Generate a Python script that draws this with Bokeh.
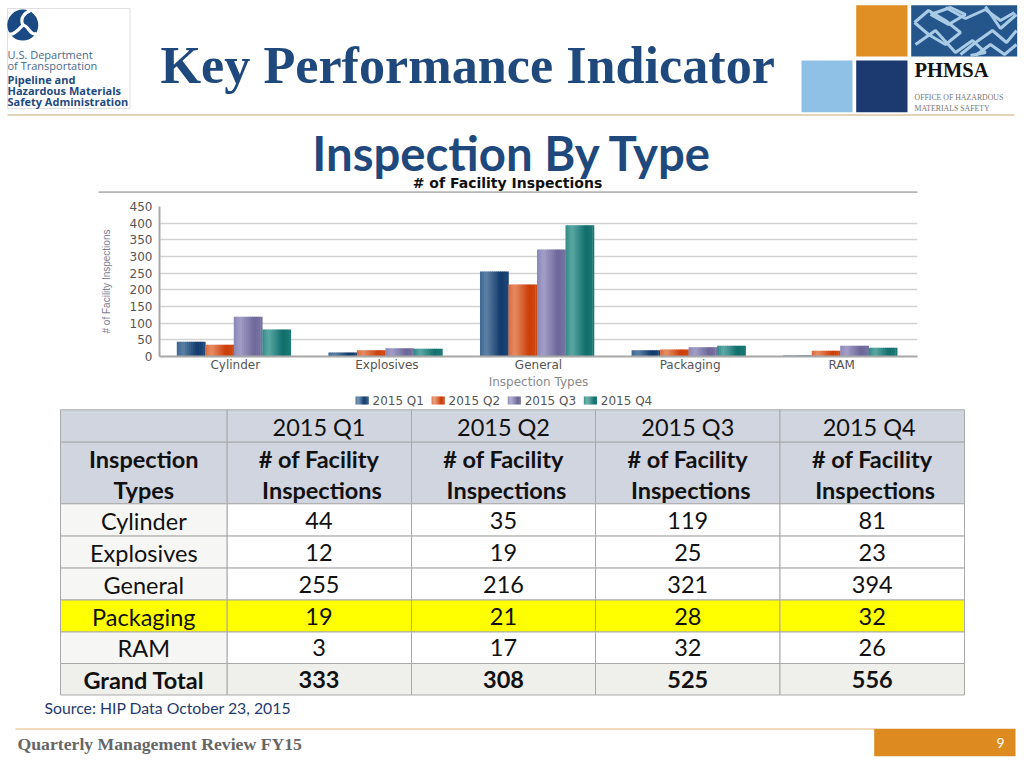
from bokeh.plotting import figure
from bokeh.layouts import column
from bokeh.models import Range1d, FactorRange, FixedTicker
from bokeh.core.properties import value
from bokeh.transform import dodge
from bokeh.embed import file_html
from bokeh.resources import INLINE

# ---------- data ----------
categories = ["Cylinder", "Explosives", "General", "Packaging", "RAM"]
q1 = [44, 12, 255, 19, 3]
q2 = [35, 19, 216, 21, 17]
q3 = [119, 25, 321, 28, 32]
q4 = [81, 23, 394, 32, 26]
grand_total = [333, 308, 525, 556]
series_names = ["2015 Q1", "2015 Q2", "2015 Q3", "2015 Q4"]
table_quarters = ["2015 Q1", "2015 Q2", "2015 Q3", "2015  Q4"]
y_ticks = [0, 50, 100, 150, 200, 250, 300, 350, 400, 450]

# ---------- style ----------
NAVY = "#1f497d"
# bar shading: left edge, highlight, shadow, right edge
shades = [
    ((60, 102, 146), (92, 128, 165), (14, 56, 106), (30, 72, 120)),
    ((220, 104, 60), (230, 140, 100), (204, 62, 8), (208, 74, 20)),
    ((138, 134, 180), (162, 158, 200), (108, 102, 152), (122, 116, 166)),
    ((47, 138, 134), (92, 168, 164), (15, 110, 107), (28, 122, 119)),
]
stops = [0.0, 0.22, 0.72, 1.0]
STRIPS = 14


def ramp(shade):
    out = []
    for j in range(STRIPS):
        t = (j + .5) / STRIPS
        k = 0 if t < stops[1] else (1 if t < stops[2] else 2)
        u = (t - stops[k]) / (stops[k + 1] - stops[k])
        rgb = [round(a + (b - a) * u) for a, b in zip(shade[k], shade[k + 1])]
        out.append("#%02x%02x%02x" % tuple(rgb))
    return out


ramps = [ramp(s) for s in shades]
W = 1024


def page_figure(y0, y1):
    f = figure(width=W, height=y1 - y0, x_range=Range1d(0, W), y_range=Range1d(y1, y0),
               output_backend="svg", toolbar_location=None, min_border=0, frame_align=False,
               background_fill_color="white", border_fill_color="white", outline_line_color=None)
    f.axis.visible = False
    f.grid.visible = False
    return f


def put(f, x, y, s, size, color="#000000", font="Lato", bold=False, align="left"):
    if font == "Lato" and size >= 15:
        y -= 1
    f.text([x], [y], text=[s], text_font=value(font), text_font_size=f"{size}px",
           text_font_style="bold" if bold else "normal", text_color=color,
           text_align=align, text_baseline="middle")


# ---------- header ----------
h = page_figure(0, 193)
h.quad(left=[7], right=[129.5], top=[8], bottom=[108], fill_color="white", line_color="#e0e0e0", line_width=1)
h.circle(x=[22.3], y=[24.6], radius=15.5, fill_color="#1a4a84", line_color=None)
h.bezier(x0=[22.5, 22.5, 22.5], y0=[24.5, 24.5, 24.5], x1=[30, 8, 36],
         y1=[10, 33, 33], cx0=[19, 18, 28], cy0=[18, 29, 25], cx1=[24, 12, 30], cy1=[12, 36, 36],
         line_color="white", line_width=3.2)
put(h, 7, 54, "U.S. Department", 11, "#4a6a8c", "Open Sans")
put(h, 7, 65, "of Transportation", 11, "#4a6a8c", "Open Sans")
put(h, 7, 79, "Pipeline and", 11, "#1f4a80", "Open Sans", True)
put(h, 7, 90, "Hazardous Materials", 11, "#1f4a80", "Open Sans", True)
put(h, 7, 101, "Safety Administration", 11, "#1f4a80", "Open Sans", True)
put(h, 160, 64, "Key Performance Indicator", 52.2, NAVY, "Liberation Serif", True)
h.quad(left=[801, 855.7, 855.7], right=[852, 907, 907], top=[60, 4.7, 60], bottom=[111.7, 56, 111.7],
       fill_color=["#8fc1e6", "#e08f24", "#1c3a70"], line_color=None)
h.quad(left=[910.7], right=[1016.7], top=[4.7], bottom=[56], fill_color="#24568c", line_color=None)
h.multi_line(
    xs=[[914, 928, 945, 960, 945, 928, 914], [915, 935, 955, 972, 985, 970],
        [945, 965, 985, 1000, 1014], [960, 975, 992, 1006, 1016], [975, 990, 1004, 1016],
        [930, 950, 965, 948, 930], [985, 1000, 1016]],
    ys=[[22, 10, 20, 32, 44, 34, 22], [44, 30, 52, 40, 52, 55],
        [7, 18, 9, 20, 12], [54, 42, 30, 42, 30], [55, 44, 54, 44],
        [14, 7, 14, 24, 14], [6, 28, 14]],
    line_color="#a9cbe6", line_width=3)
put(h, 914, 69, "PHMSA", 20.5, "#111111", "Liberation Serif", True)
put(h, 914, 97, "OFFICE OF HAZARDOUS", 7.8, "#777777", "Liberation Serif")
put(h, 914, 108, "MATERIALS SAFETY", 7.8, "#777777", "Liberation Serif")
h.segment(x0=[7], x1=[1014], y0=[114.5], y1=[114.5], line_color="#c9a875", line_width=1)
put(h, 512, 153, "Inspection By Type", 47.3, NAVY, bold=True, align="center")
put(h, 507, 182, "# of Facility Inspections", 14, "#111111", "DejaVu Sans", True, align="center")
h.segment(x0=[98], x1=[917], y0=[191.7], y1=[191.7], line_color="#b5b5b5", line_width=2)

# ---------- chart ----------
p = figure(width=W, height=200, x_range=FactorRange(factors=categories, range_padding=0, factor_padding=0),
           y_range=Range1d(0, 450), output_backend="svg", toolbar_location=None, frame_align=False,
           frame_width=758, frame_height=150,
           min_border_left=159, min_border_right=107, min_border_top=13, min_border_bottom=37,
           background_fill_color="white", border_fill_color="white", outline_line_color=None)
source = {"cat": categories, "q1": q1, "q2": q2, "q3": q3, "q4": q4}
BAR = 0.188
keys = ["q1", "q2", "q3", "q4"]
for i, k in enumerate(keys):
    off = (i - 1.5) * BAR - 0.008
    for j, c in enumerate(ramps[i]):
        sw = BAR / STRIPS
        w = sw * 1.3 if j < STRIPS - 1 else sw
        p.vbar(x=dodge("cat", off - BAR / 2 + (j + .5) * sw, range=p.x_range), top=k, width=w,
               source=source, fill_color=c, line_color=None)

p.yaxis.ticker = FixedTicker(ticks=y_ticks)
p.ygrid.ticker = FixedTicker(ticks=y_ticks)
p.xgrid.visible = False
p.ygrid.grid_line_color = "#d2d2d2"
p.ygrid.grid_line_width = 1.5
for ax in (p.xaxis[0], p.yaxis[0]):
    ax.major_tick_line_color = None
    ax.minor_tick_line_color = None
    ax.major_tick_in = 0
    ax.major_tick_out = 0
    ax.axis_line_color = "#a8a8a8"
    ax.axis_line_width = 2
    ax.major_label_text_font = "DejaVu Sans"
    ax.major_label_text_font_size = "12px"
    ax.major_label_text_color = "#555555"
p.xaxis[0].axis_label = "Inspection Types"
p.xaxis[0].axis_label_text_font = "DejaVu Sans"
p.xaxis[0].axis_label_text_font_size = "12px"
p.xaxis[0].axis_label_text_font_style = "normal"
p.xaxis[0].axis_label_text_color = "#8a8a8a"
p.xaxis[0].axis_label_standoff = 0
p.xaxis[0].major_label_standoff = 1
p.yaxis[0].axis_label = "# of Facility Inspections"
p.yaxis[0].axis_label_text_font = "Liberation Sans"
p.yaxis[0].axis_label_text_font_size = "10px"
p.yaxis[0].axis_label_text_font_style = "normal"
p.yaxis[0].axis_label_text_color = "#7c8090"
p.yaxis[0].axis_label_standoff = 15
p.yaxis[0].major_label_standoff = 7

# ---------- legend, table and footer ----------
b = page_figure(393, 768)
for i, name in enumerate(series_names):
    x0 = 355 + 76.1 * i
    for j, c in enumerate(ramps[i]):
        b.quad(left=[x0 + 13 * j / STRIPS], right=[x0 + 13 * (j + 1) / STRIPS + .2], top=[396], bottom=[404],
               fill_color=c, line_color=None)
    put(b, x0 + 17, 400, name, 12, "#555555", "DejaVu Sans")

col_edges = [60, 226.7, 411, 595, 779.5, 964]
row_edges = [409.3, 441.7, 503.3, 535.6, 567.6, 599.5, 631.5, 663, 694.5]
row_fill = ["#d0d5df", "#d0d5df", None, None, None, "#ffff00", None, "#efefeb"]
first_fill = "#f6f6f4"
lefts, rights, tops, bottoms, fills = [], [], [], [], []
for r in range(len(row_edges) - 1):
    for c in range(len(col_edges) - 1):
        lefts.append(col_edges[c]); rights.append(col_edges[c + 1])
        tops.append(row_edges[r]); bottoms.append(row_edges[r + 1])
        fills.append(row_fill[r] or (first_fill if c == 0 else "#ffffff"))
b.quad(left=lefts, right=rights, top=tops, bottom=bottoms, fill_color=fills, line_color="#a9a9a9", line_width=1)

centers = [143.3, 318.5, 503, 687.3, 871.7]
FS = 23.5
TXT = "#111111"
for i, c in enumerate(centers[1:]):
    put(b, c, 427, table_quarters[i], FS, TXT, align="center")
    put(b, c, 459, "# of Facility", FS, TXT, bold=True, align="center")
    put(b, c + 3, 490, "Inspections", FS, TXT, bold=True, align="center")
put(b, centers[0], 459, "Inspection", FS, TXT, bold=True, align="center")
put(b, centers[0], 490, "Types", FS, TXT, bold=True, align="center")
row_y = [521, 553, 585, 617, 648]
series = [q1, q2, q3, q4]
for r, cat in enumerate(categories):
    put(b, centers[0], row_y[r], cat, FS, TXT, align="center")
    for c, s in enumerate(series):
        put(b, centers[c + 1], row_y[r], str(s[r]), FS, TXT, align="center")
put(b, centers[0], 680, "Grand Total", FS, TXT, bold=True, align="center")
for c, t in enumerate(grand_total):
    put(b, centers[c + 1], 680, str(t), FS, TXT, bold=True, align="center")

put(b, 44, 708, "Source: HIP Data  October 23,  2015", 15.8, "#1f3a6e")
b.segment(x0=[15], x1=[874], y0=[728.5], y1=[728.5], line_color="#e3b57a", line_width=1)
put(b, 17, 743.5, "Quarterly Management Review FY15", 17.7, "#666666", "Liberation Serif", True)
b.quad(left=[873.7], right=[1015], top=[728.3], bottom=[755.7], fill_color="#dd8a20", line_color=None)
put(b, 1000, 742, "9", 14, "#ffffff", align="center")

page = column(h, p, b, spacing=0)
open("out.html", "w").write(file_html(page, INLINE))
